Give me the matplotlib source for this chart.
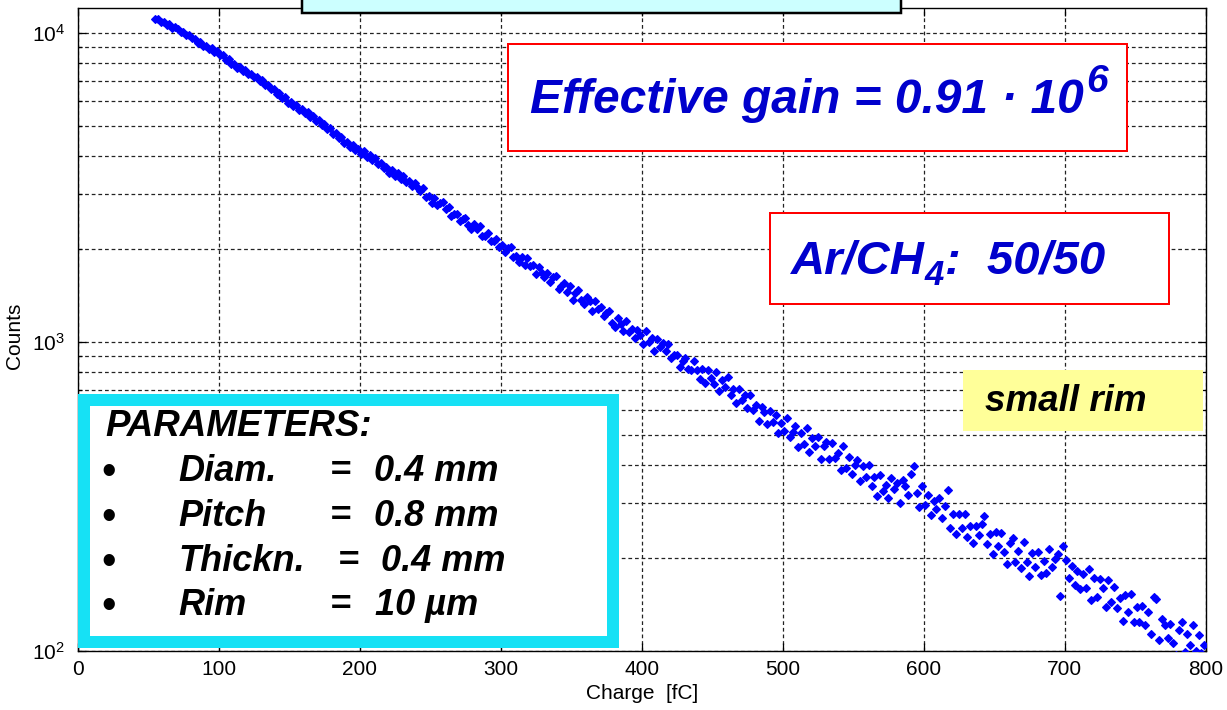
import numpy as np
import matplotlib
matplotlib.use("Agg")
import matplotlib.pyplot as plt
from matplotlib.patches import Rectangle
from matplotlib.ticker import LogLocator, NullFormatter

W, H = 1227, 710

plt.rcParams['font.family'] = ['Liberation Sans', 'DejaVu Sans']
plt.rcParams['mathtext.default'] = 'regular'

# histogram bins, 2 fC wide
charge_fc = np.arange(55, 800, 2)
counts = [
    11120, 11090, 10850, 10830, 10610, 10640, 10390, 10420, 10300, 10050,
    10080, 9840, 9830, 9590, 9570, 9300, 9310, 9050, 9060, 8850,
    8900, 8690, 8740, 8500, 8460, 8180, 8200, 7900, 7930, 7700,
    7740, 7540, 7560, 7340, 7380, 7170, 7200, 6980, 7010, 6770,
    6800, 6560, 6590, 6350, 6380, 6150, 6180, 5940, 5990, 5780,
    5830, 5640, 5670, 5480, 5530, 5330, 5380, 5190, 5230, 5030,
    5080, 4880, 4920, 4710, 4750, 4560, 4600, 4400, 4440, 4280,
    4330, 4170, 4220, 4060, 4130, 3970, 4030, 3880, 3930, 3760,
    3800, 3640, 3670, 3520, 3590, 3440, 3510, 3370, 3430, 3290,
    3323, 3180, 3264, 3155, 3069, 3136, 2930, 2964, 2808, 2917,
    2769, 2818, 2838, 2693, 2729, 2551, 2585, 2591, 2455, 2500,
    2518, 2391, 2313, 2402, 2320, 2376, 2205, 2193, 2251, 2112,
    2125, 2158, 2024, 2055, 1945, 2015, 2023, 1877, 1890, 1814,
    1882, 1770, 1872, 1757, 1768, 1656, 1751, 1675, 1617, 1674,
    1557, 1617, 1638, 1478, 1520, 1545, 1450, 1518, 1368, 1439,
    1466, 1362, 1320, 1396, 1353, 1254, 1357, 1277, 1295, 1213,
    1242, 1258, 1154, 1112, 1190, 1140, 1080, 1166, 1073, 1102,
    1027, 1092, 1055, 983, 1087, 995, 1025, 935, 1024, 960,
    989, 931, 982, 883, 905, 908, 831, 869, 884, 815,
    813, 864, 813, 755, 814, 733, 809, 765, 732, 797,
    691, 754, 713, 767, 672, 704, 632, 704, 647, 670,
    608, 674, 601, 622, 552, 614, 591, 541, 599, 549,
    578, 507, 546, 514, 565, 490, 510, 533, 458, 508,
    468, 526, 440, 487, 459, 491, 418, 459, 473, 417,
    470, 421, 438, 385, 460, 391, 422, 373, 399, 413,
    353, 397, 366, 400, 340, 364, 317, 371, 329, 344,
    312, 362, 333, 348, 301, 356, 340, 318, 372, 395,
    323, 292, 342, 296, 320, 274, 306, 288, 313, 268,
    295, 331, 250, 276, 238, 276, 249, 276, 233, 253,
    223, 253, 236, 258, 273, 221, 238, 206, 243, 219,
    241, 209, 191, 223, 232, 194, 210, 185, 225, 193,
    175, 207, 187, 209, 176, 195, 179, 213, 186, 198,
    205, 150, 218, 196, 172, 188, 163, 181, 158, 177,
    160, 184, 146, 172, 149, 170, 159, 139, 169, 144,
    161, 137, 148, 125, 151, 133, 153, 124, 138, 124,
    140, 121, 133, 113, 149, 147, 108, 127, 121, 110,
    122, 106, 97, 117, 124, 99, 113, 104, 121, 100,
    112, 98, 104,
]
x_ticks = [0, 100, 200, 300, 400, 500, 600, 700, 800]

params_names = ['Diam.', 'Pitch', 'Thickn.', 'Rim']
params_values = ['0.4 mm', '0.8 mm', '0.4 mm', '10 µm']


def fx(px):
    return px / W


def fy(py):
    return 1 - py / H


def box(x0, y0, x1, y1, fc, ec, lw_px):
    r = Rectangle((fx(x0), fy(y1)), (x1 - x0) / W, (y1 - y0) / H,
                  transform=fig.transFigure, facecolor=fc, edgecolor=ec,
                  linewidth=lw_px * 0.72, zorder=2)
    fig.add_artist(r)


fig = plt.figure(figsize=(W / 100, H / 100), dpi=100)
ax = fig.add_axes([fx(77.7), fy(650.7), 1128 / W, (650.7 - 8.3) / H])

ax.plot(charge_fc, counts, ls='none', marker='D', ms=3.6, color='#0000ff',
        mec='#0000ff', mew=0.8, zorder=3)

ax.set_yscale('log')
ax.set_xlim(0, 800)
ax.set_ylim(100, 12000)
ax.set_xticks(x_ticks)
ax.yaxis.set_major_locator(LogLocator(base=10))
ax.yaxis.set_minor_locator(LogLocator(base=10, subs=np.arange(2, 10)))
ax.yaxis.set_minor_formatter(NullFormatter())

dash = (0, (3, 2.3))
ax.grid(True, which='major', ls=dash, color='#222222', lw=0.9)
ax.grid(True, which='minor', axis='y', ls=dash, color='#222222', lw=0.9)
ax.tick_params(which='both', direction='in', top=True, right=True,
               labelsize=15, width=0.9)
ax.tick_params(which='major', length=6)
ax.tick_params(which='minor', length=3)
ax.tick_params(axis='x', pad=7)
ax.tick_params(axis='y', pad=9)
for s in ax.spines.values():
    s.set_linewidth(1.0)

ax.set_xlabel('Charge  [fC]', fontsize=15, labelpad=3)
ax.set_ylabel('Counts', fontsize=15)
ax.yaxis.set_label_coords(-0.048, 0.49)

# title box, cut off at the top
box(302, -30, 901, 13, '#ccffff', 'black', 2.5)

# gain box
box(508, 44, 1127, 151, 'white', '#ff0000', 2)
bold = dict(fontweight='bold', fontstyle='italic', va='baseline', zorder=4)
t_gain = fig.text(fx(530), fy(113), 'Effective gain = 0.91 · 10',
                  fontsize=34.5, color='#0000cc', **bold)

# gas box
box(770, 213, 1169, 304, 'white', '#ff0000', 2)
t_gas = fig.text(fx(791), fy(274), 'Ar/CH', fontsize=34, color='#0000cc', **bold)

# small rim
box(963, 370, 1203, 431, '#ffff99', 'none', 0)
fig.text(fx(985), fy(411), 'small rim', fontsize=26.5, color='black', **bold)

# parameters box
box(84, 400, 613, 642, 'white', '#16e1f5', 12)
fig.text(fx(105), fy(436), 'PARAMETERS:', fontsize=26.5, color='black', **bold)
row_base = [481, 526, 571, 615]
eq_x = [330, 330, 338, 330]
val_x = [374, 374, 381, 375]
for i, name in enumerate(params_names):
    fig.text(fx(101), fy(row_base[i] + 3), '•', fontsize=30, color='black',
             va='baseline', zorder=4)
    fig.text(fx(178), fy(row_base[i]), name, fontsize=26, color='black', **bold)
    fig.text(fx(eq_x[i]), fy(row_base[i]), '=', fontsize=26, color='black', **bold)
    fig.text(fx(val_x[i]), fy(row_base[i]), params_values[i], fontsize=26,
             color='black', **bold)

# superscript / subscript pieces placed after the main strings
renderer = fig.canvas.get_renderer()
bb = t_gain.get_window_extent(renderer)
fig.text((bb.x1 + 2) / W, fy(92), '6', fontsize=28, color='#0000cc', **bold)
bb = t_gas.get_window_extent(renderer)
t_sub = fig.text((bb.x1 + 0) / W, fy(285), '4', fontsize=25, color='#0000cc', **bold)
bb = t_sub.get_window_extent(renderer)
fig.text((bb.x1 + 1) / W, fy(274), ':  50/50', fontsize=34, color='#0000cc', **bold)

fig.savefig('out.png', dpi=100)
